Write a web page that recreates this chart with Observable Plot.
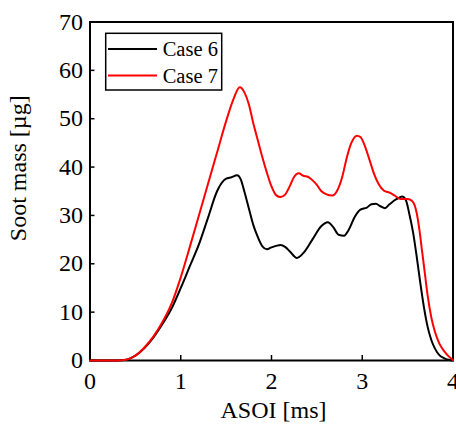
<!DOCTYPE html>
<html>
<head>
<meta charset="utf-8">
<script src="https://cdn.jsdelivr.net/npm/d3@7"></script>
<script src="https://cdn.jsdelivr.net/npm/@observablehq/plot@0.6"></script>
<style>
  html, body { margin: 0; padding: 0; background: #fff; }
  #chart { width: 456px; height: 433px; }
</style>
</head>
<body>
<div id="chart"></div>
<script>
const seriesNames = ["Case 6", "Case 7"];
const seriesColors = ["#000000", "#ff0000"];
const xTicks = [0, 1, 2, 3, 4];
const yTicks = [0, 10, 20, 30, 40, 50, 60, 70];
const xLabel = "ASOI [ms]";
const yLabel = "Soot mass [µg]";

const asoi6 = [0, 0.2, 0.3, 0.38, 0.45, 0.5, 0.6, 0.7, 0.8, 0.9, 1.0, 1.1, 1.2, 1.3, 1.4, 1.5, 1.56, 1.62, 1.66, 1.7, 1.75, 1.8, 1.85, 1.9, 1.95, 2.0, 2.05, 2.1, 2.15, 2.2, 2.28, 2.35, 2.45, 2.55, 2.62, 2.68, 2.74, 2.8, 2.85, 2.92, 2.98, 3.05, 3.1, 3.15, 3.2, 3.25, 3.3, 3.38, 3.44, 3.48, 3.52, 3.56, 3.6, 3.64, 3.68, 3.72, 3.76, 3.8, 3.85, 3.9, 3.95, 4.0];
const mass6 = [0, 0, 0, 0.1, 0.5, 1.0, 2.6, 4.8, 7.6, 10.8, 15.0, 19.5, 24.0, 29.5, 35.0, 37.6, 37.9, 38.3, 37.5, 35.0, 31.5, 28.0, 25.5, 23.6, 23.0, 23.4, 23.7, 23.9, 23.5, 22.6, 21.2, 22.2, 25.0, 27.8, 28.6, 27.6, 26.0, 25.8, 27.0, 29.8, 31.2, 31.6, 32.3, 32.4, 31.9, 31.5, 32.3, 33.4, 33.9, 33.2, 30.2, 26.5, 21.5, 16.0, 11.0, 7.0, 4.3, 2.5, 1.1, 0.5, 0.15, 0];

const asoi7 = [0, 0.2, 0.3, 0.38, 0.45, 0.5, 0.6, 0.7, 0.8, 0.9, 1.0, 1.1, 1.2, 1.3, 1.4, 1.5, 1.58, 1.65, 1.7, 1.75, 1.8, 1.85, 1.9, 1.95, 2.0, 2.05, 2.1, 2.15, 2.2, 2.25, 2.3, 2.35, 2.4, 2.45, 2.5, 2.55, 2.6, 2.67, 2.72, 2.78, 2.83, 2.88, 2.94, 2.98, 3.03, 3.08, 3.13, 3.18, 3.24, 3.3, 3.35, 3.42, 3.5, 3.55, 3.6, 3.63, 3.66, 3.69, 3.72, 3.76, 3.8, 3.85, 3.9, 3.95, 4.0];
const mass7 = [0, 0, 0, 0.1, 0.5, 1.0, 2.7, 5.0, 8.0, 11.8, 17.2, 23.5, 30.0, 36.5, 43.0, 49.5, 54.0, 56.5, 55.5, 53.0, 49.0, 45.5, 42.0, 38.8, 36.0, 34.2, 33.8, 34.3, 36.0, 38.0, 38.7, 38.2, 38.0, 37.3, 36.3, 35.0, 34.4, 34.1, 35.0, 38.0, 42.0, 45.0, 46.5, 46.2, 44.3, 41.5, 38.6, 36.5, 35.1, 34.7, 34.2, 33.4, 33.4, 33.0, 30.5, 27.0, 22.5, 18.0, 13.5, 9.0, 6.0, 3.5, 2.0, 0.9, 0.1];

const data = [
  ...asoi6.map((x, i) => ({series: seriesNames[0], x, y: mass6[i]})),
  ...asoi7.map((x, i) => ({series: seriesNames[1], x, y: mass7[i]}))
];

const font = "'Liberation Serif', 'Times New Roman', serif";

const svg = Plot.plot({
  width: 456,
  height: 433,
  marginLeft: 89.5,
  marginRight: 3.5,
  marginTop: 21.5,
  marginBottom: 73,
  style: {fontFamily: font, fontSize: "24px", color: "#000", background: "#fff"},
  x: {domain: [0, 4]},
  y: {domain: [0, 70]},
  color: {domain: seriesNames, range: seriesColors},
  marks: [
    Plot.axisX({ticks: xTicks, tickSize: -5, tickPadding: 16, tickFormat: d => String(d), label: null, fontSize: 24, strokeWidth: 1.5}),
    Plot.axisY({ticks: yTicks, tickSize: -5, tickPadding: 12, tickFormat: d => String(d), label: null, fontSize: 24, strokeWidth: 1.5}),
    Plot.text([xLabel], {frameAnchor: "bottom", dy: 50, lineAnchor: "middle", textAnchor: "middle", fontSize: 24, dx: 2}),
    Plot.text([yLabel], {frameAnchor: "left", dx: -81, dy: -23, rotate: -90, textAnchor: "middle", lineAnchor: "top", fontSize: 24}),
    Plot.frame({stroke: "#000", strokeWidth: 2}),
    Plot.line(data, {x: "x", y: "y", z: "series", stroke: "series", strokeWidth: 2, curve: "monotone-x"})
  ]
});

// in-plot legend box (top-left)
const g = d3.select(svg).append("g")
  .attr("font-family", font).attr("font-size", 20.5)
  .attr("text-anchor", "start")
  .style("font-family", font).style("font-size", "20.5px");
g.append("rect").attr("x", 105.7).attr("y", 33.3).attr("width", 116).attr("height", 56.7)
  .attr("fill", "#fff").attr("stroke", "#000").attr("stroke-width", 1.5);
seriesNames.forEach((name, i) => {
  const cy = 49 + i * 26.5;
  g.append("line").attr("x1", 108).attr("x2", 157).attr("y1", cy).attr("y2", cy)
    .attr("stroke", seriesColors[i]).attr("stroke-width", 2);
  g.append("text").attr("x", 162.7).attr("y", cy + 7.2).attr("fill", "#000")
    .attr("text-anchor", "start").text(name);
});

document.getElementById("chart").appendChild(svg);
</script>
</body>
</html>
